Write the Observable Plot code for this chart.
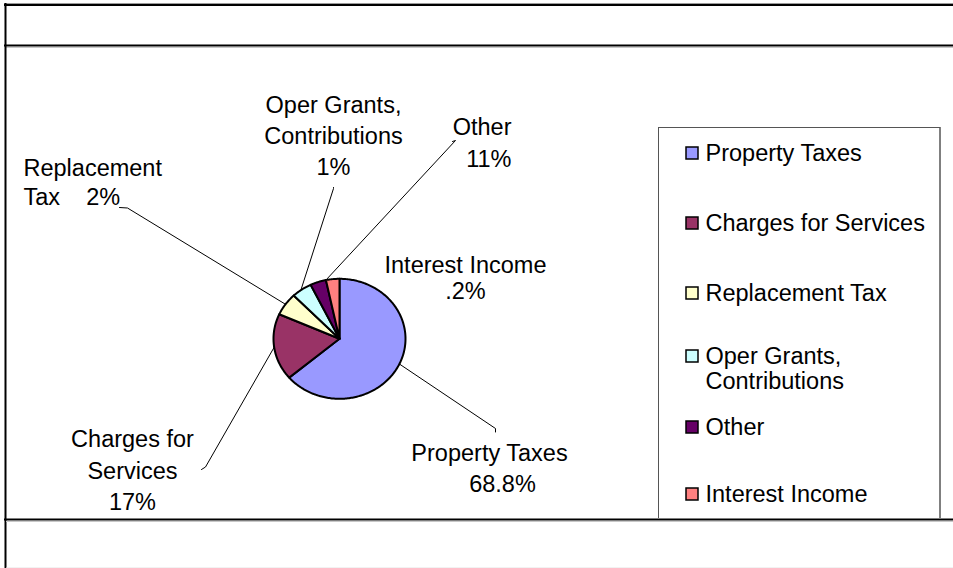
<!DOCTYPE html>
<html>
<head>
<meta charset="utf-8">
<script src="https://cdn.jsdelivr.net/npm/d3@7"></script>
<script src="https://cdn.jsdelivr.net/npm/@observablehq/plot@0.6"></script>
<style>
  html, body { margin: 0; padding: 0; background: #ffffff; }
  #chart svg { display: block; }
</style>
</head>
<body>
<div id="chart"></div>
<script>
// ---- data ----
const categories = ["Property Taxes", "Charges for Services", "Replacement Tax", "Oper Grants, Contributions", "Other", "Interest Income"];
// slice sizes as drawn (percent of the circle)
const sliceShares = [63.8, 17.9, 6.1, 5.0, 3.9, 3.3];
// percentages printed on the data labels
const percentLabels = ["68.8%", "17%", "2%", "1%", "11%", ".2%"];
const sliceColors = ["#9999FF", "#993366", "#FFFFCC", "#CCFFFF", "#660066", "#FF8080"];
// label text broken into lines as in the picture
const pieLabelLines = [
  ["Property Taxes", "68.8%"],
  ["Charges for", "Services", "17%"],
  ["Replacement", "Tax\u00a0\u00a0\u00a0\u00a02%"],
  ["Oper Grants,", "Contributions", "1%"],
  ["Other", "11%"],
  ["Interest Income", ".2%"]
];
const legendLines = [
  ["Property Taxes"],
  ["Charges for Services"],
  ["Replacement Tax"],
  ["Oper Grants,", "Contributions"],
  ["Other"],
  ["Interest Income"]
];

// ---- layout ----
const W = 953, H = 568;
const FONT = 23.5;
const pie = {cx: 339, cy: 338.3, rx: 66, ry: 60};
const labelLayout = [
  {x: 489, y: 453, lh: 31, anchor: "middle", dx: [0, 13], tick: [[495, 431.5], [495, 428]], at: 0.5},
  {x: 132, y: 439, lh: 31.5, anchor: "middle", dx: [0, 0, 0], tick: [[201, 469], [205, 466.5]], at: 0.5},
  {x: 23, y: 168, lh: 29, anchor: "start", dx: [0, 0], tick: [[119, 207], [127, 207.5]], at: 0.5},
  {x: 333, y: 105, lh: 31, anchor: "middle", dx: [0, 0, 0], tick: [[333, 187], [333, 188]], at: 0.45},
  {x: 511, y: 127, lh: 32, anchor: "end", dx: [0, 0], tick: [[452, 141], [455, 140]], at: 1.0},
  {x: 465, y: 265, lh: 26, anchor: "middle", dx: [0, 0], tick: null}
];
const legendLayout = {sqX1: 686, sqX2: 698, sq: 12, textX: 705, ys: [153, 223, 293, 356, 427, 494], lh: 24.5};

// ---- geometry derived from data ----
const total = d3.sum(sliceShares);
const toRad = (share) => share / total * 2 * Math.PI;
const ellipsePt = (a) => [pie.cx + pie.rx * Math.sin(a), pie.cy - pie.ry * Math.cos(a)];

let acc = 0;
const slices = categories.map((c, i) => {
  const a0 = toRad(acc);
  acc += sliceShares[i];
  const a1 = toRad(acc);
  return {cat: c, a0, a1, color: sliceColors[i]};
});

const slicePts = [];
for (const s of slices) {
  slicePts.push({cat: s.cat, color: s.color, x: pie.cx, y: pie.cy});
  const n = Math.max(2, Math.ceil((s.a1 - s.a0) / (Math.PI / 180)));
  for (let k = 0; k <= n; k++) {
    const a = s.a0 + (s.a1 - s.a0) * k / n;
    const [x, y] = ellipsePt(a);
    slicePts.push({cat: s.cat, color: s.color, x, y});
  }
}

const leaderPts = [];
slices.forEach((s, i) => {
  const L = labelLayout[i];
  if (!L.tick) return;
  const [px, py] = ellipsePt(s.a0 + (s.a1 - s.a0) * L.at);
  leaderPts.push({k: i, x: L.tick[0][0], y: L.tick[0][1]});
  leaderPts.push({k: i, x: L.tick[1][0], y: L.tick[1][1]});
  leaderPts.push({k: i, x: px, y: py});
});

const labelRows = [];
pieLabelLines.forEach((lines, i) => {
  const L = labelLayout[i];
  lines.forEach((t, j) => labelRows.push({text: t, x: L.x + (L.dx[j] || 0), y: L.y + j * L.lh, anchor: L.anchor}));
});

const legendRows = [];
const legendSquares = [];
legendLines.forEach((lines, i) => {
  const y = legendLayout.ys[i];
  legendSquares.push({x1: legendLayout.sqX1, x2: legendLayout.sqX2, y1: y - legendLayout.sq / 2, y2: y + legendLayout.sq / 2, color: sliceColors[i]});
  lines.forEach((t, j) => legendRows.push({text: t, x: legendLayout.textX, y: y + j * legendLayout.lh}));
});

const textStart = labelRows.filter(d => d.anchor === "start");
const textMid = labelRows.filter(d => d.anchor === "middle");
const textEnd = labelRows.filter(d => d.anchor === "end");

const chart = Plot.plot({
  width: W,
  height: H,
  margin: 0,
  x: {domain: [0, W], range: [0, W], axis: null},
  y: {domain: [0, H], range: [0, H], axis: null},
  color: {type: "identity"},
  style: {fontFamily: "'Liberation Sans', Arial, sans-serif", background: "#ffffff", color: "#000"},
  marks: [
    // outer frame
    Plot.ruleY([4.5], {x1: 4, x2: W, stroke: "#000", strokeWidth: 2}),
    Plot.ruleY([3], {x1: 4, x2: W, stroke: "#9a9a9a", strokeWidth: 1}),
    Plot.ruleY([45], {x1: 4, x2: W, stroke: "#000", strokeWidth: 2}),
    Plot.ruleY([47], {x1: 6, x2: W, stroke: "#c8c8c8", strokeWidth: 1}),
    Plot.ruleX([5], {y1: 3, y2: H, stroke: "#000", strokeWidth: 2}),
    Plot.ruleY([519], {x1: 4, x2: W, stroke: "#000", strokeWidth: 2}),
    Plot.ruleY([521], {x1: 6, x2: W, stroke: "#c8c8c8", strokeWidth: 1}),
    Plot.ruleY([567.5], {x1: 6, x2: W, stroke: "#e4e4e4", strokeWidth: 1}),
    // legend box (bottom clipped by chart frame)
    Plot.ruleY([127], {x1: 658, x2: 939.5, stroke: "#555", strokeWidth: 1}),
    Plot.ruleX([658], {y1: 127, y2: 518, stroke: "#555", strokeWidth: 1}),
    Plot.ruleX([939.5], {y1: 127, y2: 518, stroke: "#000", strokeWidth: 1}),
    // pie slices
    Plot.line(slicePts, {x: "x", y: "y", z: "cat", fill: "color", stroke: "#000", strokeWidth: 2, strokeLinejoin: "round", curve: "linear-closed"}),
    // leader lines
    Plot.line(leaderPts, {x: "x", y: "y", z: "k", stroke: "#000", strokeWidth: 1}),
    // data labels
    Plot.text(textStart, {x: "x", y: "y", text: "text", textAnchor: "start", fontSize: FONT, fill: "#000"}),
    Plot.text(textMid, {x: "x", y: "y", text: "text", textAnchor: "middle", fontSize: FONT, fill: "#000"}),
    Plot.text(textEnd, {x: "x", y: "y", text: "text", textAnchor: "end", fontSize: FONT, fill: "#000"}),
    // legend
    Plot.rect(legendSquares, {x1: "x1", x2: "x2", y1: "y1", y2: "y2", fill: "color", stroke: "#000", strokeWidth: 1.5}),
    Plot.text(legendRows, {x: "x", y: "y", text: "text", textAnchor: "start", fontSize: FONT, fill: "#000"})
  ]
});

document.getElementById("chart").appendChild(chart);
</script>
</body>
</html>
